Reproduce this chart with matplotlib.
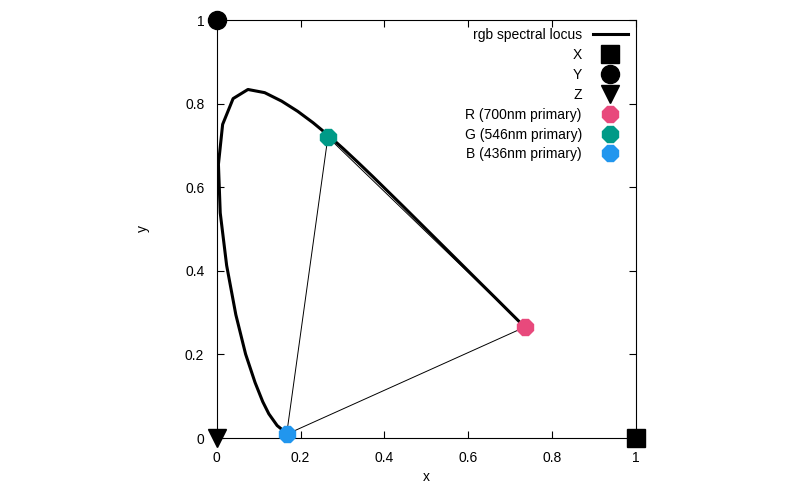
import matplotlib
matplotlib.use("Agg")
import matplotlib.pyplot as plt
from matplotlib.ticker import FuncFormatter

plt.rcParams["font.family"] = ["Liberation Sans", "DejaVu Sans"]
plt.rcParams["font.size"] = 10

# CIE 1931 spectral locus (x, y), blue end to red end
locus_x = [0.1741, 0.1440, 0.1241, 0.1096, 0.0913, 0.0687, 0.0454, 0.0235, 0.0082,
           0.0039, 0.0139, 0.0389, 0.0743, 0.1142, 0.1547, 0.1929, 0.2296, 0.2658,
           0.3016, 0.3373, 0.3731, 0.4441, 0.5125, 0.5752, 0.6270, 0.6658, 0.6915,
           0.7190, 0.7300, 0.7347]
locus_y = [0.0050, 0.0297, 0.0578, 0.0868, 0.1327, 0.2007, 0.2950, 0.4127, 0.5384,
           0.6548, 0.7502, 0.8120, 0.8338, 0.8262, 0.8059, 0.7816, 0.7543, 0.7243,
           0.6923, 0.6589, 0.6245, 0.5547, 0.4866, 0.4242, 0.3725, 0.3340, 0.3083,
           0.2809, 0.2700, 0.2653]

prim_names = ["R (700nm primary)", "G (546nm primary)", "B (436nm primary)"]
prim_x = [0.7347, 0.2650, 0.1666]
prim_y = [0.2653, 0.7200, 0.0089]
prim_colors = ["#e8497c", "#009a87", "#2196ee"]

xyz_names = ["X", "Y", "Z"]
xyz_x = [1.0, 0.0, 0.0]
xyz_y = [0.0, 1.0, 0.0]
xyz_markers = ["s", "o", "v"]

fig = plt.figure(figsize=(8, 5), dpi=100)
ax = fig.add_axes([0.271, 0.124, 0.524, 0.836])

ax.plot(locus_x, locus_y, color="black", linewidth=2.2, label="rgb spectral locus")
tri_x = prim_x + [prim_x[0]]
tri_y = prim_y + [prim_y[0]]
ax.plot(tri_x, tri_y, color="black", linewidth=0.7)

for n, x, y, m in zip(xyz_names, xyz_x, xyz_y, xyz_markers):
    ax.plot([x], [y], marker=m, color="black", markersize=13, linestyle="none",
            label=n, clip_on=False, zorder=5)
for n, x, y, c in zip(prim_names, prim_x, prim_y, prim_colors):
    ax.plot([x], [y], marker="8", color=c, markersize=13, linestyle="none",
            label=n, clip_on=False, zorder=5)

ax.set_xlim(0, 1)
ax.set_ylim(0, 1)
ticks = [0, 0.2, 0.4, 0.6, 0.8, 1]
ax.set_xticks(ticks)
ax.set_yticks(ticks)
fmt = FuncFormatter(lambda v, p: f"{v:g}")
ax.xaxis.set_major_formatter(fmt)
ax.yaxis.set_major_formatter(fmt)
ax.tick_params(direction="in", top=True, right=True, length=5, pad=9)
ax.set_xlabel("x")
ax.set_ylabel("y", labelpad=25)

ax.legend(loc="upper right", frameon=False, markerfirst=False, handlelength=2.5,
          labelspacing=0.42, borderaxespad=0.2, fontsize=10, markerscale=1.0)

fig.savefig("out.png")
